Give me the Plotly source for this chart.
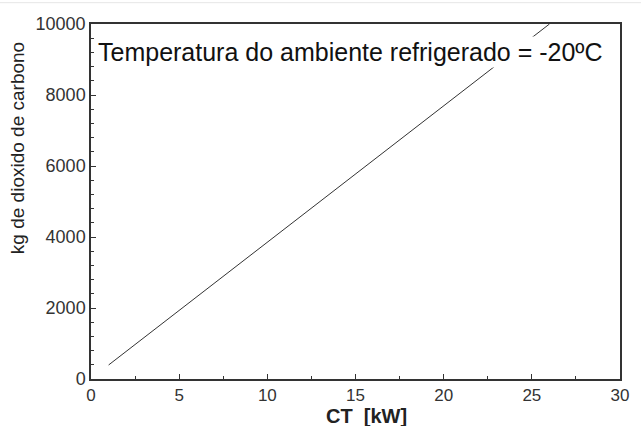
import plotly.graph_objects as go

ct_kw = [1, 5, 10, 15, 20, 25, 26]
co2_kg = [395, 1930, 3850, 5770, 7690, 9610, 10000]
x_ticks = [0, 5, 10, 15, 20, 25, 30]
y_ticks = [0, 2000, 4000, 6000, 8000, 10000]
y_tick_text = ["0", "2000", "4000", "6000", "8000", "10000"]
label = "Temperatura do ambiente refrigerado = -20ºC"
x_title = "<b>CT  [kW]</b>"
y_title = "kg de dioxido de carbono"

FONT = "Liberation Sans, Arial"

fig = go.Figure()
fig.add_trace(go.Scatter(x=ct_kw, y=co2_kg, mode="lines",
                         line=dict(color="#333333", width=1), showlegend=False))

axis_common = dict(
    showgrid=False, zeroline=False, showline=True, linecolor="#333333", linewidth=1.5,
    mirror=True, ticks="inside", ticklen=5, tickwidth=1, tickcolor="#333333",
)
fig.update_xaxes(range=[0, 30], tickvals=x_ticks,
                 tickfont=dict(family=FONT, size=17, color="#333333"),
                 minor=dict(dtick=2.5, ticks="inside", ticklen=3, tickcolor="#333333"),
                 **axis_common)
fig.update_yaxes(range=[0, 10000], tickvals=y_ticks, ticktext=y_tick_text,
                 tickfont=dict(family=FONT, size=18, color="#333333"),
                 minor=dict(dtick=400, ticks="inside", ticklen=3, tickcolor="#333333"),
                 **axis_common)

fig.add_annotation(x=0.01, y=0.921, xref="paper", yref="paper", xanchor="left", yanchor="middle",
                   text=label, showarrow=False, bgcolor="white",
                   font=dict(family=FONT, size=25, color="#111111"))
fig.add_annotation(x=0.52, y=-0.105, xref="paper", yref="paper", xanchor="center", yanchor="middle",
                   text=x_title, showarrow=False,
                   font=dict(family=FONT, size=20, color="#222222"))
fig.add_annotation(x=-0.1375, y=0.651, xref="paper", yref="paper", xanchor="center", yanchor="middle",
                   text=y_title, showarrow=False, textangle=-90,
                   font=dict(family=FONT, size=19, color="#222222"))

fig.add_shape(type="line", xref="paper", yref="paper", x0=-0.2, x1=1.1, y0=1.06, y1=1.06,
              line=dict(color="#e6e6e6", width=1))

fig.update_layout(width=641, height=426, margin=dict(l=91, r=12, t=24, b=47),
                  plot_bgcolor="white", paper_bgcolor="white")
fig.write_html("out.html")
